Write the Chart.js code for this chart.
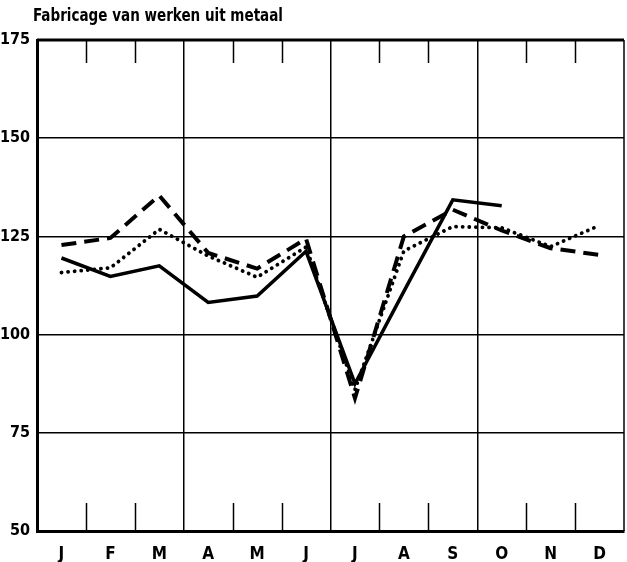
<!DOCTYPE html>
<html>
<head>
<meta charset="utf-8">
<script src="https://cdn.jsdelivr.net/npm/chart.js@4/dist/chart.umd.min.js"></script>
<style>
  html, body { margin: 0; padding: 0; background: #fff; }
  canvas { display: block; }
</style>
</head>
<body>
<canvas id="chart" width="627" height="562"></canvas>
<script>
const months = ['J', 'F', 'M', 'A', 'M', 'J', 'J', 'A', 'S', 'O', 'N', 'D'];
const yTicks = [50, 75, 100, 125, 150, 175];
const solidSeries = [119.5, 114.8, 117.5, 108.2, 109.8, 121.2, 87.5, 111, 134.3, 132.8, null, null];
const dashedSeries = [122.8, 124.6, 135.4, 120.8, 116.8, 124.4, 83.8, 125, 131.8, 126.5, 122, 120.3];
const dottedSeries = [115.8, 117, 126.8, 120, 114.6, 122.3, 86, 121.3, 127.5, 127.2, 122.4, 127.8];
const title = 'Fabricage van werken uit metaal';

const font = "'DejaVu Sans Condensed', 'Liberation Sans Narrow', sans-serif";

// frame, title and short month ticks
const framePlugin = {
  id: 'frame',
  afterDraw(chart) {
    const { ctx, chartArea: a, scales: { x } } = chart;
    ctx.save();
    ctx.strokeStyle = '#000';
    // top and right edges
    ctx.lineWidth = 3;
    ctx.beginPath();
    ctx.moveTo(a.left, a.top);
    ctx.lineTo(a.right, a.top);
    ctx.stroke();
    ctx.lineWidth = 1.5;
    ctx.beginPath();
    ctx.moveTo(a.right, a.top);
    ctx.lineTo(a.right, a.bottom);
    ctx.stroke();
    // short ticks at month boundaries
    const step = x.getPixelForValue(1) - x.getPixelForValue(0);
    ctx.lineWidth = 1.5;
    for (let i = 1; i < months.length; i++) {
      if (i % 3 === 0) continue;
      const px = Math.round(x.getPixelForValue(i) - step / 2) + 0.5;
      ctx.beginPath();
      ctx.moveTo(px, a.top);
      ctx.lineTo(px, a.top + 23);
      ctx.moveTo(px, a.bottom - 28);
      ctx.lineTo(px, a.bottom);
      ctx.stroke();
    }
    // title, squeezed a bit like the printed condensed type
    ctx.fillStyle = '#000';
    ctx.font = 'bold 17px ' + font;
    ctx.textBaseline = 'alphabetic';
    ctx.textAlign = 'left';
    ctx.translate(33, 21);
    ctx.scale(250 / ctx.measureText(title).width, 1);
    ctx.fillText(title, 0, 0);
    ctx.restore();
  }
};

new Chart(document.getElementById('chart'), {
  type: 'line',
  data: {
    labels: months,
    datasets: [
      {
        data: solidSeries,
        borderColor: '#000',
        borderWidth: 3.5,
        pointRadius: 0,
        tension: 0,
        spanGaps: false
      },
      {
        data: dashedSeries,
        borderColor: '#000',
        borderWidth: 4,
        borderDash: [15, 8],
        pointRadius: 0,
        tension: 0
      },
      {
        data: dottedSeries,
        borderColor: '#000',
        borderWidth: 3.8,
        borderDash: [0.1, 6.5],
        borderCapStyle: 'round',
        pointRadius: 0,
        tension: 0
      }
    ]
  },
  options: {
    responsive: false,
    animation: false,
    layout: { padding: { top: 40, right: 3, bottom: 0, left: 0 } },
    plugins: {
      legend: { display: false },
      title: { display: false },
      tooltip: { enabled: false }
    },
    scales: {
      x: {
        type: 'category',
        offset: true,
        afterFit: s => { s.height = 31; },
        grid: {
          offset: true,
          drawTicks: false,
          lineWidth: 1.5,
          color: ctx => (ctx.index % 3 === 0 && ctx.index > 0 && ctx.index < 12) ? '#000' : 'rgba(0,0,0,0)'
        },
        border: { color: '#000', width: 3 },
        ticks: {
          color: '#000',
          padding: 13,
          font: { family: font, size: 17, weight: 'bold' },
          maxRotation: 0
        }
      },
      y: {
        min: 50,
        max: 175,
        afterBuildTicks: s => { s.ticks = yTicks.map(v => ({ value: v })); },
        afterFit: s => { s.width = 37; },
        grid: {
          drawTicks: false,
          lineWidth: 1.5,
          color: ctx => (ctx.tick && (ctx.tick.value === 50 || ctx.tick.value === 175)) ? 'rgba(0,0,0,0)' : '#000'
        },
        border: { color: '#000', width: 3 },
        ticks: {
          color: '#000',
          padding: 7,
          font: { family: font, size: 16, weight: 'bold' }
        }
      }
    }
  },
  plugins: [framePlugin]
});
</script>
</body>
</html>
